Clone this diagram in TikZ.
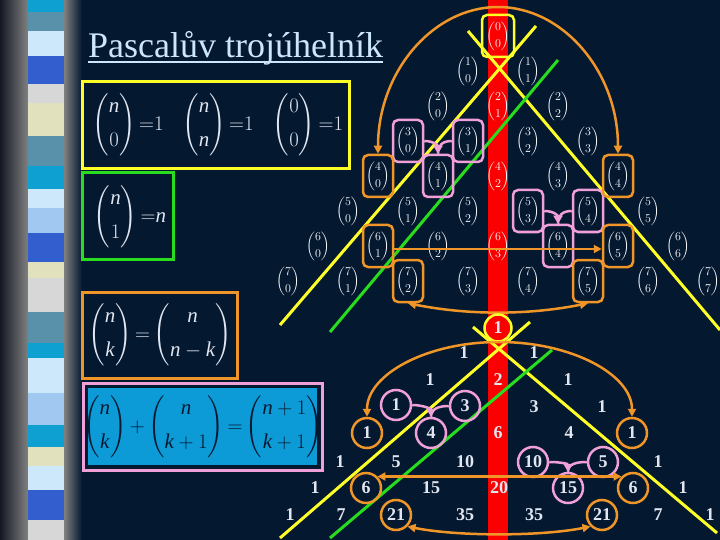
\documentclass[tikz,border=0pt]{standalone}
\usepackage{amsmath}
\usepackage{fontspec}
\setmainfont{Liberation Serif}
\usetikzlibrary{arrows.meta}
\definecolor{navy}{RGB}{4,24,48}
\definecolor{ttl}{RGB}{205,230,250}
\definecolor{yel}{RGB}{255,255,40}
\definecolor{grn}{RGB}{40,220,30}
\definecolor{org}{RGB}{240,150,40}
\definecolor{pnk}{RGB}{240,160,215}
\definecolor{redb}{RGB}{250,0,0}
\definecolor{bluef}{RGB}{12,155,215}
\definecolor{txt}{RGB}{225,230,240}
\definecolor{sCy}{RGB}{15,160,210}
\definecolor{sSt}{RGB}{90,145,170}
\definecolor{sLt}{RGB}{205,232,250}
\definecolor{sRo}{RGB}{50,95,205}
\definecolor{sGr}{RGB}{215,215,215}
\definecolor{sBe}{RGB}{225,225,190}
\definecolor{sLb}{RGB}{160,200,240}
\definecolor{sDk}{RGB}{20,24,36}
\definecolor{sGy}{RGB}{128,128,128}
\newcommand\bnm[2]{\left(\begin{array}{@{}c@{}}#1\\[10pt]#2\end{array}\right)}
\newcommand\vn{\textit{n}}
\newcommand\vk{\textit{k}}
\tikzset{
  bn/.style={inner sep=0pt, minimum width=28pt, minimum height=42pt, text=white, font=\fontsize{13}{15}\selectfont},
  obx/.style={draw=org, line width=2.5pt, rounded corners=5pt, minimum width=30pt, minimum height=42pt, inner sep=0pt},
  pbx/.style={obx, draw=pnk},
  ybx/.style={obx, draw=yel, minimum width=32pt},
  num/.style={text=txt, font=\fontsize{18}{18}\bfseries\selectfont, inner sep=0pt},
  oc/.style={num, circle, draw=org, line width=2.5pt, minimum size=30pt},
  pc/.style={num, circle, draw=pnk, line width=2.5pt, minimum size=30pt},
  redc/.style={num, circle, fill=redb, draw=yel, line width=2.5pt, minimum size=27pt},
  ylin/.style={yel, line width=3pt},
  glin/.style={grn, line width=3pt},
  oarr/.style={org, line width=2.5pt, arrows={Triangle[length=8pt,width=8pt]-Triangle[length=8pt,width=8pt]}},
  oarr1/.style={org, line width=2.5pt, -{Triangle[length=8pt,width=8pt]}},
  parr/.style={pnk, line width=2.5pt, -{Triangle[length=8pt,width=9pt]}},
  pln/.style={pnk, line width=2.5pt},
  fbox/.style={line width=3pt, inner sep=0pt},
  form/.style={text=txt, inner sep=0pt, font=\fontsize{21}{24}\selectfont},
}
\begin{document}
\begin{tikzpicture}[x=1pt,y=-1pt]
\useasboundingbox (0,0) rectangle (720,540);
\fill[navy] (0,0) rectangle (720,540);
% left stripe
\shade[left color=sDk, right color=sGy] (0,0) rectangle (28,540);
\foreach \a/\b/\c in {0/12/sCy,12/31/sSt,31/56/sLt,56/84/sRo,84/103/sGr,103/136/sBe,136/166/sSt,166/189/sCy,189/208/sLt,208/233/sLb,233/262/sRo,262/278/sBe,278/312/sGr,312/343/sSt,343/358/sCy,358/393/sLt,393/425/sLb,425/447/sCy,447/466/sBe,466/490/sLt,490/520/sRo,520/540/sGr}
  \fill[\c] (28,\a) rectangle (64,\b);
\shade[left color=sGy, right color=navy] (64,0) rectangle (82,540);
% title
\node[anchor=base west, text=ttl, font=\fontsize{36}{40}\selectfont, inner sep=0pt] (title) at (88,58) {Pascalův trojúhelník};
\draw[ttl, line width=1.8pt] ([yshift=-4pt]title.base west) -- ([yshift=-4pt]title.base east);
% formula boxes
\node[fbox, draw=yel, minimum width=267pt, minimum height=87pt] (yb) at (215.5,125.5) {};
\node[fbox, draw=grn, minimum width=91pt, minimum height=86pt] (gb) at (127.5,216) {};
\node[fbox, draw=org, minimum width=155pt, minimum height=86pt] (ob) at (159.5,335) {};
\node[fbox, draw=pnk, minimum width=239pt, minimum height=87pt] (pb) at (202.5,426.5) {};
\node[fill=bluef, draw=navy, line width=1.2pt, inner sep=0pt, minimum width=231pt, minimum height=79pt] (pf) at (pb) {};
\node[form] (f1) at (128,125) {$\bnm{\vn}{0}{=}1$};
\node[form] (f2) at (218,125) {$\bnm{\vn}{\vn}{=}1$};
\node[form] (f3) at (308,125) {$\bnm{0}{0}{=}1$};
\node[form] (f4) at (130,217) {$\bnm{\vn}{1}{=}\vn$};
\node[form] (f5) at (160,335) {$\bnm{\vn}{\vk}{=}\bnm{\vn}{\vn-\vk}$};
\node[form, text=navy] (f6) at (203,427) {$\bnm{\vn}{\vk}{+}\bnm{\vn}{\vk+1}{=}\bnm{\vn+1}{\vk+1}$};
% red band
\fill[redb] (488,0) rectangle (508,540);
% lines
\coordinate (ya1) at (536,26);  \coordinate (ya2) at (280,325);
\coordinate (yb1) at (468,31);  \coordinate (yb2) at (720,330);
\coordinate (ga1) at (558,60);  \coordinate (ga2) at (330,332);
\coordinate (yc1) at (530,322); \coordinate (yc2) at (280,538);
\coordinate (yd1) at (473,327); \coordinate (yd2) at (717,533);
\coordinate (gc1) at (552,350); \coordinate (gc2) at (330,538);
\draw[ylin] (ya1) -- (ya2);
\draw[ylin] (yb1) -- (yb2);
\draw[glin] (ga1) -- (ga2);
\draw[ylin] (yc1) -- (yc2);
\draw[ylin] (yd1) -- (yd2);
\draw[glin] (gc1) -- (gc2);
% top triangle of binomials
\foreach \n in {0,...,7}
  \foreach \k in {0,...,\n}
    \node[bn] (b\n\k) at ({498+30*(2*\k-\n)},{36+35*\n}) {$\dbinom{\n}{\k}$};
\node[ybx] (yx00) at (b00) {};
\node[pbx] (px30) at (b30) {};
\node[pbx] (px31) at (b31) {};
\node[pbx] (px41) at (b41) {};
\node[pbx] (px53) at (b53) {};
\node[pbx] (px54) at (b54) {};
\node[pbx] (px64) at (b64) {};
\node[obx] (ox40) at (b40) {};
\node[obx] (ox44) at (b44) {};
\node[obx] (ox61) at (b61) {};
\node[obx] (ox65) at (b65) {};
\node[obx] (ox72) at (b72) {};
\node[obx] (ox75) at (b75) {};
\coordinate (atop) at (498,7);
\draw[oarr] (ox40.north) .. controls +(0,-82) and +(-65,0) .. (atop) .. controls +(65,0) and +(0,-82) .. (ox44.north);
\draw[oarr1] ([yshift=-3pt]ox61.east) -- ([yshift=-3pt]ox65.west);
\draw[oarr] (ox72.south) .. controls +(60,12) and +(-60,12) .. (ox75.south);
\draw[pln] (px31.west) .. controls +(-10,0) and +(0,-8) .. (px41.north);
\draw[parr] (px30.east) .. controls +(10,0) and +(0,-8) .. (px41.north);
\draw[pln] (px54.west) .. controls +(-10,0) and +(0,-8) .. (px64.north);
\draw[parr] (px53.east) .. controls +(10,0) and +(0,-8) .. (px64.north);
% bottom triangle of numbers
\node[redc] (t00) at (498,328) {1};
\node[num] (t10) at (464,353) {1};
\node[num] (t11) at (534,353) {1};
\node[num] (t20) at (430,380) {1};
\node[num] (t21) at (498,380) {2};
\node[num] (t22) at (568,380) {1};
\node[pc]  (t30) at (396,405) {1};
\node[pc]  (t31) at (465,406) {3};
\node[num] (t32) at (534,407) {3};
\node[num] (t33) at (602,407) {1};
\node[oc]  (t40) at (367,433) {1};
\node[pc]  (t41) at (431,433) {4};
\node[num] (t42) at (498,433) {6};
\node[num] (t43) at (569,433) {4};
\node[oc]  (t44) at (632,433) {1};
\node[num] (t50) at (340,462) {1};
\node[num] (t51) at (396,462) {5};
\node[num] (t52) at (465,462) {10};
\node[pc]  (t53) at (533,462) {10};
\node[pc]  (t54) at (603,462) {5};
\node[num] (t55) at (658,462) {1};
\node[num] (t60) at (315,488) {1};
\node[oc]  (t61) at (366,488) {6};
\node[num] (t62) at (431,488) {15};
\node[num] (t63) at (499,488) {20};
\node[pc]  (t64) at (568,488) {15};
\node[oc]  (t65) at (633,488) {6};
\node[num] (t66) at (683,488) {1};
\node[num] (t70) at (290,515) {1};
\node[num] (t71) at (341,515) {7};
\node[oc]  (t72) at (396,515) {21};
\node[num] (t73) at (465,515) {35};
\node[num] (t74) at (534,515) {35};
\node[oc]  (t75) at (602,515) {21};
\node[num] (t76) at (658,515) {7};
\node[num] (t77) at (710,515) {1};
\coordinate (btop) at (499,342);
\draw[oarr] (t40.north) .. controls +(0,-42) and +(-73,0) .. (btop) .. controls +(73,0) and +(0,-42) .. (t44.north);
\draw[oarr] (t61.north east) -- (t65.north west);
\draw[oarr] (t72.south east) .. controls +(50,10) and +(-50,10) .. (t75.south west);
\draw[pln] (t31.west) .. controls +(-10,0) and +(0,-8) .. (t41.north);
\draw[parr] (t30.east) .. controls +(10,0) and +(0,-8) .. (t41.north);
\draw[pln] (t54.west) .. controls +(-10,0) and +(0,-8) .. (t64.north);
\draw[parr] (t53.east) .. controls +(10,0) and +(0,-8) .. (t64.north);
\end{tikzpicture}
\end{document}
